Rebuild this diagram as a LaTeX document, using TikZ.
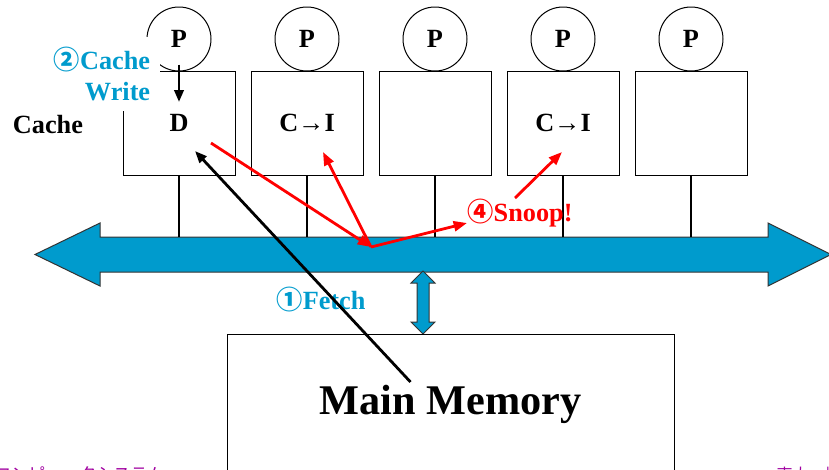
\documentclass[tikz,border=0pt]{standalone}
\usepackage{fontspec}
\setmainfont{Liberation Serif}
\newfontfamily\cjk{Noto Sans CJK JP}
\usetikzlibrary{arrows.meta}
\definecolor{busblue}{RGB}{0,155,205}
\definecolor{footpurple}{RGB}{160,0,160}
\tikzset{every picture/.style={line width=0.75pt}}
\tikzset{
  lbl/.style={font=\fontsize{19.7}{23}\selectfont\bfseries, inner sep=0.75pt},
  proc/.style={lbl, circle, draw, minimum size=48pt, inner sep=0pt},
  cachebox/.style={lbl, rectangle, draw, minimum width=84pt, minimum height=78pt},
  busline/.style={line width=1.5pt},
  snooparrow/.style={draw=red, line width=2.1pt, -{Triangle[length=10pt,width=7.5pt]}},
  fetcharrow/.style={line width=2.1pt, -{Triangle[length=9pt,width=7pt]}},
  footer/.style={text=footpurple, inner sep=0pt, anchor=base west},
}

\begin{document}
\begin{tikzpicture}[x=0.75pt,y=0.75pt,yscale=-1,xscale=1]
        \clip (0,0) rectangle (829,469); %set diagram size 829 x 469

        % Processors
        \draw (179,39) node (p1) [proc] {P};
        \draw (307,39) node (p2) [proc] {P};
        \draw (435,39) node (p3) [proc] {P};
        \draw (563,39) node (p4) [proc] {P};
        \draw (691,39) node (p5) [proc] {P};

        % Caches
        \draw (179,123) node (c1) [cachebox] {D};
        \draw (307,123) node (c2) [cachebox] {C→I};
        \draw (435,123) node (c3) [cachebox] {};
        \draw (563,123) node (c4) [cachebox] {C→I};
        \draw (691,123) node (c5) [cachebox] {};

        % Text Node
        \draw (102,74) node (wrlbl) [lbl, text=busblue, fill=white, align=right, inner xsep=7.5pt, inner ysep=7.5pt] {{\cjk ②}Cache\\Write};
        % Text Node
        \draw (48,125) node (cachelbl) [lbl] {Cache};

        % Write arrow
        \draw [fetcharrow] ([shift={(0,-7)}]p1.south) -- ([shift={(0,-21)}]c1.center);

        % Bus
        \coordinate (bustop) at (0,237);
        \draw [fill=busblue, draw=black!80] (35,254.5) -- (100,223) -- (100,237) -- (768,237) -- (768,223) -- (831,254.5) -- (768,286) -- (768,272) -- (100,272) -- (100,286) -- cycle;
        \draw [busline] (c1.south) -- (c1.south |- bustop);
        \draw [busline] (c2.south) -- (c2.south |- bustop);
        \draw [busline] (c3.south) -- (c3.south |- bustop);
        \draw [busline] (c4.south) -- (c4.south |- bustop);
        \draw [busline] (c5.south) -- (c5.south |- bustop);

        % Memory port
        \draw [fill=busblue, draw=black!80] (423,271) -- (435,283) -- (429,283) -- (429,322) -- (435,322) -- (423,334) -- (411,322) -- (417,322) -- (417,283) -- (411,283) -- cycle;

        % Main memory
        \draw (450.5,404) node (mem) [rectangle, draw, minimum width=335.25pt, minimum height=105pt, font=\fontsize{31.7}{36}\selectfont\bfseries] {Main Memory};

        % Text Node
        \draw (321,300) node (fetchlbl) [lbl, text=busblue] {{\cjk ①}Fetch};
        % Text Node
        \draw (520,213) node (snooplbl) [lbl, text=red] {{\cjk ④}Snoop!};

        % Fetch line
        \coordinate (fetchsrc) at ([shift={(-40,-22)}]mem.center);
        \coordinate (fetchdst) at ([shift={(16,28)}]c1.center);
        \draw [fetcharrow] (fetchsrc) -- (fetchdst);

        % Snoop lines
        \coordinate (snoopsrc) at ([shift={(32,20)}]c1.center);
        \coordinate (snoopjct) at (371,247);
        \coordinate (inv2) at ([shift={(16,29)}]c2.center);
        \coordinate (inv4) at ([shift={(-1,29)}]c4.center);
        \draw [snooparrow] (snoopsrc) -- (snoopjct);
        \draw [snooparrow] (snoopjct) -- (inv2);
        \draw [snooparrow] (snoopjct) -- ([shift={(-53,10)}]snooplbl.center);
        \draw [snooparrow] ([shift={(-5,-15)}]snooplbl.center) -- (inv4);

        % Footer
        \draw (-6,480) node (footl) [footer, font=\cjk\fontsize{12.75}{14}\selectfont] {コンピュータシステム};
        \draw (776,480.5) node (footr) [footer, font=\cjk\fontsize{12}{14}\selectfont] {東大・坂井};
\end{tikzpicture}
\end{document}
